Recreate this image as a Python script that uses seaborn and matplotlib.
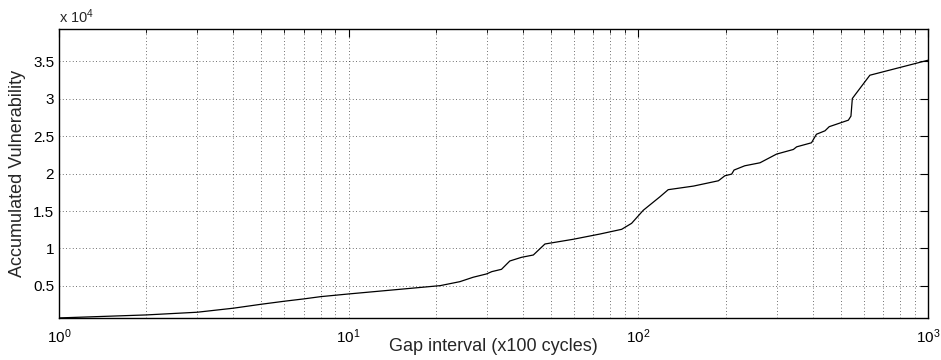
import numpy as np
import pandas as pd
import matplotlib
matplotlib.use("Agg")
import matplotlib.pyplot as plt
import matplotlib.ticker as mticker
import seaborn as sns

# Data
gap_interval = [1.0, 2.0, 3.0, 4.0, 5.0, 6.0, 7.0, 8.0, 9.0, 10.0,
                20.7, 24.2, 26.9, 29.9, 31.2, 33.7, 36.0, 39.5, 43.4, 47.6,
                59.6, 73.7, 87.6, 94.8, 104.0, 118.8, 126.8, 155.0, 189.0,
                199.0, 210.0, 214.0, 233.0, 263.0, 300.0, 343.0, 352.0,
                396.0, 412.0, 441.0, 456.0, 531.0, 542.0, 548.0, 559.0,
                630.0, 1000.0]
accumulated = [730, 1130, 1490, 2030, 2560, 2960, 3270, 3570, 3760, 3930,
               5040, 5570, 6160, 6600, 6910, 7220, 8330, 8820, 9130, 10600,
               11230, 11930, 12560, 13360, 15100, 16910, 17850, 18330, 19040,
               19710, 19930, 20470, 21040, 21440, 22600, 23220, 23570,
               24110, 25250, 25710, 26260, 27130, 27670, 30020, 30470,
               33130, 35130]
y_ticks = [5000, 10000, 15000, 20000, 25000, 30000, 35000]
y_tick_labels = ["0.5", "1", "1.5", "2", "2.5", "3", "3.5"]
x_label = "Gap interval (x100 cycles)"
y_label = "Accumulated Vulnerability"

df = pd.DataFrame({"gap": gap_interval, "acc": accumulated})

sns.set_style("white")
plt.rcParams["font.family"] = ["Liberation Sans", "DejaVu Sans"]
plt.rcParams["mathtext.fontset"] = "custom"
plt.rcParams["mathtext.rm"] = "Liberation Sans"
plt.rcParams["mathtext.it"] = "Liberation Sans:italic"

fig = plt.figure(figsize=(9.41, 3.60), dpi=100)
ax = fig.add_axes([59 / 941, 42 / 360, (928 - 59) / 941, (318 - 29) / 360])

sns.lineplot(data=df, x="gap", y="acc", ax=ax, color="black", lw=0.9,
             estimator=None, sort=False)

ax.set_xscale("log")
ax.set_xlim(1, 1000)
ax.set_ylim(720, 39300)
ax.set_yticks(y_ticks)
ax.set_yticklabels(y_tick_labels)
ax.xaxis.set_major_locator(mticker.LogLocator(base=10, numticks=10))
ax.xaxis.set_minor_locator(mticker.LogLocator(base=10, subs=np.arange(2, 10), numticks=20))
ax.xaxis.set_minor_formatter(mticker.NullFormatter())

ax.grid(True, which="major", axis="both", linestyle=(0, (1, 3)), color="black", lw=0.6, alpha=0.75)
ax.grid(True, which="minor", axis="x", linestyle=(0, (1, 3)), color="black", lw=0.6, alpha=0.75)

ax.tick_params(axis="both", which="both", direction="in", top=True, right=True,
               labelsize=11, colors="black")
ax.tick_params(axis="both", which="major", length=6, width=0.8)
ax.tick_params(axis="x", which="major", pad=7)
ax.tick_params(axis="x", which="minor", length=3, width=0.6)
for s in ax.spines.values():
    s.set_color("black")
    s.set_linewidth(1.0)

ax.set_xlabel(x_label, fontsize=13)
ax.xaxis.set_label_coords(0.5, -0.068)
ax.set_ylabel(y_label, fontsize=13, labelpad=5)
ax.text(0.0, 1.012, r"x 10$^4$", transform=ax.transAxes, fontsize=10.5,
        ha="left", va="bottom")

fig.savefig("out.png", dpi=100)
